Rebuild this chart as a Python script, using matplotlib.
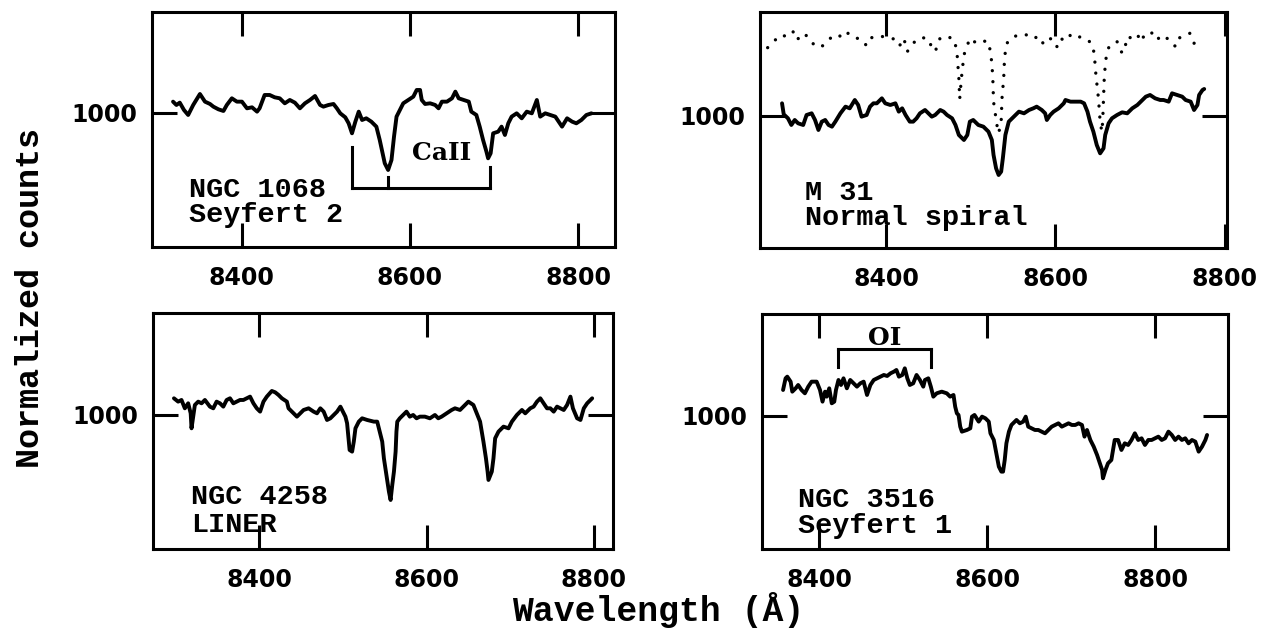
import numpy as np
import matplotlib
matplotlib.use('Agg')
import matplotlib.pyplot as plt

# spectra: (wavelength in Angstrom, normalized counts)
ngc1068 = np.array([
    (8318, 1034), (8322, 1024), (8326, 1031), (8331, 1009), (8336, 994), (8342, 1024),
    (8350, 1057), (8356, 1034), (8362, 1027), (8366, 1019), (8372, 1011), (8378, 1006),
    (8382, 1024), (8388, 1044), (8394, 1034), (8400, 1034), (8406, 1014), (8412, 1017),
    (8418, 1004), (8421, 1014), (8427, 1054), (8433, 1054), (8439, 1047), (8445, 1044),
    (8451, 1029), (8457, 1039), (8463, 1031), (8469, 1014), (8475, 1029), (8481, 1039),
    (8487, 1051), (8493, 1024), (8497, 1019), (8503, 1024), (8509, 1027), (8513, 1014),
    (8517, 999), (8523, 987), (8527, 969), (8531, 939), (8535, 974), (8539, 1004),
    (8543, 979), (8548, 984), (8554, 974), (8560, 959), (8564, 919), (8570, 849),
    (8574, 829), (8578, 859), (8581, 929), (8584, 989), (8588, 1009), (8592, 1029),
    (8598, 1039), (8604, 1049), (8608, 1069), (8612, 1069), (8614, 1039), (8618, 1027),
    (8624, 1029), (8630, 1024), (8634, 1014), (8638, 1034), (8644, 1034), (8650, 1044),
    (8654, 1064), (8658, 1044), (8664, 1039), (8670, 1034), (8673, 1004), (8679, 994),
    (8683, 959), (8687, 919), (8691, 884), (8693, 864), (8696, 879), (8699, 939),
    (8705, 944), (8709, 959), (8713, 934), (8717, 969), (8721, 989), (8727, 999),
    (8733, 984), (8739, 1004), (8745, 999), (8751, 1039), (8755, 989), (8761, 999),
    (8767, 994), (8773, 989), (8781, 959), (8787, 984), (8793, 974), (8798, 969),
    (8804, 979), (8810, 994), (8816, 999),
])

m31 = np.array([
    (8277, 1038), (8279, 1005), (8284, 993), (8288, 973), (8292, 988), (8296, 978),
    (8302, 973), (8306, 1003), (8312, 1008), (8316, 988), (8320, 958), (8324, 983),
    (8328, 988), (8332, 973), (8336, 968), (8340, 983), (8346, 1008), (8352, 1028),
    (8357, 1023), (8363, 1048), (8367, 1033), (8371, 998), (8377, 1003), (8381, 1028),
    (8385, 1038), (8389, 1038), (8395, 1053), (8399, 1038), (8405, 1033), (8411, 1038),
    (8415, 1013), (8419, 1023), (8423, 1003), (8428, 983), (8432, 983), (8436, 993),
    (8440, 1008), (8446, 1018), (8450, 1008), (8454, 998), (8458, 1003), (8464, 1018),
    (8468, 1013), (8472, 1003), (8478, 993), (8482, 973), (8486, 943), (8492, 928),
    (8496, 943), (8499, 983), (8503, 988), (8509, 973), (8515, 968), (8521, 953),
    (8525, 928), (8527, 883), (8530, 843), (8533, 823), (8536, 833), (8538, 873),
    (8541, 943), (8545, 983), (8549, 993), (8553, 1003), (8557, 1013), (8563, 1008),
    (8569, 1018), (8574, 1023), (8578, 1028), (8584, 1018), (8588, 1008), (8590, 988),
    (8594, 1003), (8598, 1013), (8604, 1023), (8610, 1038), (8612, 1048), (8618, 1043),
    (8624, 1043), (8630, 1043), (8634, 1038), (8638, 1013), (8641, 983), (8645, 953),
    (8649, 913), (8653, 888), (8657, 903), (8659, 943), (8663, 978), (8667, 993),
    (8673, 1003), (8679, 1011), (8685, 1008), (8691, 1023), (8697, 1033), (8703, 1048),
    (8707, 1058), (8712, 1063), (8718, 1053), (8724, 1048), (8728, 1048), (8734, 1043),
    (8738, 1068), (8744, 1063), (8750, 1058), (8754, 1048), (8760, 1043), (8764, 1018),
    (8768, 1033), (8770, 1063), (8774, 1078), (8776, 1081),
])

# dotted comparison spectrum in the M 31 panel
m31_dotted = np.array([
    (8260, 1205), (8269, 1228), (8275, 1243), (8284, 1238), (8290, 1253), (8294, 1228),
    (8304, 1248), (8310, 1223), (8321, 1205), (8328, 1215), (8334, 1233), (8342, 1245),
    (8350, 1233), (8355, 1248), (8363, 1233), (8369, 1233), (8377, 1211), (8383, 1235),
    (8393, 1241), (8401, 1233), (8411, 1231), (8416, 1211), (8421, 1233), (8425, 1193),
    (8432, 1218), (8438, 1233), (8448, 1235), (8454, 1208), (8458, 1193), (8464, 1235),
    (8474, 1237), (8481, 1228), (8484, 1183), (8486, 1113), (8487, 1051), (8489, 1113),
    (8492, 1183), (8499, 1233), (8507, 1218), (8514, 1225), (8521, 1223), (8524, 1183),
    (8526, 1123), (8527, 1043), (8531, 973), (8533, 948), (8536, 983), (8537, 1053),
    (8539, 1113), (8540, 1173), (8542, 1213), (8545, 1228), (8551, 1238), (8557, 1243),
    (8565, 1245), (8570, 1233), (8576, 1235), (8582, 1238), (8586, 1215), (8590, 1228),
    (8596, 1233), (8602, 1208), (8606, 1233), (8612, 1225), (8618, 1243), (8624, 1233),
    (8630, 1238), (8638, 1228), (8643, 1218), (8646, 1188), (8648, 1123), (8651, 1053),
    (8653, 983), (8655, 953), (8656, 983), (8657, 1053), (8658, 1123), (8660, 1173),
    (8662, 1201), (8667, 1218), (8673, 1223), (8679, 1188), (8683, 1213), (8685, 1238),
    (8691, 1233), (8697, 1245), (8701, 1223), (8705, 1241), (8712, 1253), (8716, 1245),
    (8720, 1228), (8726, 1243), (8732, 1233), (8736, 1228), (8742, 1208), (8746, 1233),
    (8752, 1243), (8759, 1248), (8764, 1218), (8768, 1235),
])

ngc4258 = np.array([
    (8298, 1050), (8303, 1040), (8307, 1045), (8311, 1020), (8315, 1035), (8318, 1005),
    (8319, 960), (8321, 995), (8323, 1030), (8327, 1040), (8331, 1035), (8335, 1045),
    (8341, 1025), (8345, 1020), (8349, 1040), (8353, 1035), (8357, 1025), (8361, 1045),
    (8365, 1050), (8369, 1035), (8373, 1040), (8377, 1045), (8381, 1045), (8385, 1050),
    (8389, 1055), (8393, 1035), (8397, 1020), (8401, 1010), (8405, 1040), (8409, 1055),
    (8415, 1072), (8419, 1068), (8423, 1060), (8427, 1050), (8433, 1040), (8435, 1020),
    (8439, 1010), (8445, 995), (8449, 1005), (8453, 1015), (8459, 1020), (8465, 1010),
    (8469, 1005), (8473, 1020), (8477, 1010), (8481, 985), (8485, 990), (8489, 1000),
    (8493, 1010), (8497, 1025), (8500, 1010), (8503, 995), (8505, 975), (8508, 895),
    (8511, 890), (8513, 920), (8515, 960), (8519, 980), (8523, 990), (8529, 985),
    (8537, 980), (8541, 980), (8544, 950), (8547, 920), (8549, 870), (8552, 820),
    (8555, 770), (8557, 745), (8559, 790), (8561, 830), (8563, 890), (8564, 950),
    (8565, 980), (8568, 990), (8572, 1000), (8576, 1010), (8580, 995), (8584, 1000),
    (8588, 990), (8592, 995), (8598, 995), (8604, 990), (8610, 1000), (8614, 990),
    (8618, 995), (8624, 1005), (8630, 1015), (8634, 1020), (8640, 1015), (8646, 1030),
    (8650, 1040), (8656, 1030), (8660, 1005), (8664, 980), (8666, 950), (8668, 920),
    (8671, 870), (8673, 830), (8674, 805), (8678, 830), (8680, 870), (8682, 930),
    (8686, 950), (8692, 965), (8698, 960), (8702, 980), (8708, 1000), (8714, 1015),
    (8718, 1005), (8724, 1020), (8728, 1025), (8732, 1040), (8736, 1050), (8740, 1035),
    (8744, 1020), (8748, 1020), (8752, 1010), (8756, 1025), (8760, 1020), (8764, 1015),
    (8768, 1030), (8772, 1055), (8775, 1020), (8780, 990), (8784, 985), (8788, 1020),
    (8792, 1035), (8798, 1050),
])

ngc3516 = np.array([
    (8357, 1078), (8360, 1113), (8362, 1118), (8366, 1103), (8368, 1073), (8372, 1083),
    (8375, 1093), (8379, 1078), (8383, 1068), (8387, 1088), (8391, 1103), (8397, 1103),
    (8401, 1078), (8404, 1043), (8407, 1073), (8409, 1058), (8412, 1083), (8415, 1038),
    (8418, 1043), (8420, 1078), (8423, 1108), (8426, 1093), (8429, 1113), (8433, 1083),
    (8437, 1108), (8441, 1098), (8445, 1088), (8449, 1098), (8453, 1103), (8457, 1063),
    (8461, 1093), (8465, 1108), (8469, 1113), (8473, 1118), (8477, 1123), (8481, 1120),
    (8485, 1128), (8489, 1133), (8492, 1138), (8495, 1118), (8499, 1123), (8502, 1143),
    (8505, 1113), (8508, 1093), (8512, 1098), (8516, 1123), (8520, 1108), (8524, 1088),
    (8526, 1108), (8530, 1113), (8533, 1088), (8536, 1058), (8540, 1068), (8546, 1073),
    (8552, 1068), (8556, 1058), (8560, 1063), (8562, 1028), (8564, 1008), (8566, 1003),
    (8568, 968), (8570, 953), (8576, 958), (8580, 963), (8582, 998), (8585, 1003),
    (8590, 983), (8594, 998), (8598, 993), (8602, 983), (8604, 948), (8608, 928),
    (8611, 888), (8614, 848), (8617, 833), (8619, 833), (8621, 868), (8623, 918),
    (8626, 953), (8629, 973), (8633, 983), (8635, 988), (8639, 978), (8643, 983),
    (8646, 998), (8649, 968), (8653, 963), (8657, 958), (8661, 958), (8665, 953),
    (8669, 948), (8673, 958), (8677, 968), (8681, 973), (8685, 978), (8689, 968),
    (8693, 973), (8697, 978), (8701, 973), (8705, 973), (8709, 978), (8713, 973),
    (8716, 938), (8719, 958), (8723, 928), (8727, 908), (8731, 883), (8733, 868),
    (8737, 838), (8738, 813), (8741, 838), (8744, 858), (8748, 868), (8750, 898),
    (8752, 928), (8756, 928), (8760, 898), (8764, 918), (8768, 913), (8772, 928),
    (8776, 948), (8780, 928), (8784, 933), (8788, 913), (8792, 928), (8796, 928),
    (8800, 933), (8804, 938), (8808, 928), (8812, 933), (8816, 953), (8820, 943),
    (8824, 928), (8828, 938), (8832, 928), (8836, 933), (8840, 918), (8844, 928),
    (8848, 923), (8852, 893), (8856, 908), (8860, 928), (8862, 943),
])

x_ticks = [8400, 8600, 8800]
y_ticks = [1000]

# line markers
caii_wl = [8531, 8574, 8695]
caii_top = [898, 808, 838]
caii_base = 775
oi_wl = [8422, 8533]
oi_base = 1148
oi_top = 1200

names = [("NGC 1068", "Seyfert 2"), ("M 31", "Normal spiral"),
         ("NGC 4258", "LINER"), ("NGC 3516", "Seyfert 1")]

plt.rcParams['font.family'] = 'DejaVu Sans'
plt.rcParams['font.weight'] = 'bold'
mono = 'Liberation Mono'

fig = plt.figure(figsize=(12.68, 6.31), dpi=100)

rects = [(0.1199, 0.6086, 0.3651, 0.3724),
         (0.5994, 0.6070, 0.3683, 0.3740),
         (0.1207, 0.1300, 0.3628, 0.3740),
         (0.6010, 0.1300, 0.3675, 0.3724)]
xlims = [(8293, 8844), (8251, 8803), (8273, 8823), (8332, 8887)]
ylims = [(598, 1303), (604, 1312), (598, 1306), (601, 1306)]
label_pos = [(0.080, 0.213, 0.106), (0.096, 0.203, 0.097),
             (0.082, 0.190, 0.073), (0.077, 0.180, 0.069)]
spectra = [ngc1068, m31, ngc4258, ngc3516]

axes = []
for i in range(4):
    ax = fig.add_axes(rects[i])
    ax.set_xlim(*xlims[i])
    ax.set_ylim(*ylims[i])
    ax.set_xticks(x_ticks)
    ax.set_yticks(y_ticks)
    ax.tick_params(axis='x', direction='in', top=True, bottom=True,
                   length=17, width=2.2, pad=14, labelsize=17)
    ax.tick_params(axis='y', direction='in', left=True, right=True,
                   length=18, width=2.2, pad=11, labelsize=17)
    for s in ax.spines.values():
        s.set_linewidth(2.2)
    sp = spectra[i]
    ax.plot(sp[:, 0], sp[:, 1], color='black', lw=2.8,
            solid_joinstyle='round', solid_capstyle='round')
    lx, ly1, ly2 = label_pos[i]
    ax.text(lx, ly1, names[i][0], transform=ax.transAxes, family=mono,
            fontsize=20.5, fontweight='bold', va='baseline')
    ax.text(lx, ly2, names[i][1], transform=ax.transAxes, family=mono,
            fontsize=20.5, fontweight='bold', va='baseline')
    axes.append(ax)

# dotted comparison spectrum
axes[1].plot(m31_dotted[:, 0], m31_dotted[:, 1], color='black', lw=2.4,
             linestyle=(0, (0.01, 3.3)), dash_capstyle='round')

# CaII triplet bracket
ax = axes[0]
ax.plot([caii_wl[0], caii_wl[-1]], [caii_base, caii_base], color='black', lw=2.2)
for w, t in zip(caii_wl, caii_top):
    ax.plot([w, w], [caii_base, t], color='black', lw=2.2)
ax.text(8638, 880, "CaII", family='DejaVu Serif', fontsize=18,
        fontweight='bold', ha='center', va='center')

# OI bracket
ax = axes[3]
ax.plot([oi_wl[0], oi_wl[1]], [oi_top, oi_top], color='black', lw=2.2)
for w in oi_wl:
    ax.plot([w, w], [oi_base, oi_top], color='black', lw=2.2)
ax.text(sum(oi_wl) / 2, 1234, "OI", family='DejaVu Serif', fontsize=18,
        fontweight='bold', ha='center', va='center')

fig.text(0.024, 0.528, "Normalized counts", rotation=90, family=mono,
         fontsize=24, fontweight='bold', ha='center', va='center')
fig.text(0.519, 0.034, "Wavelength (Å)", family=mono,
         fontsize=25, fontweight='bold', ha='center', va='center')

fig.savefig('out.png', dpi=100)
